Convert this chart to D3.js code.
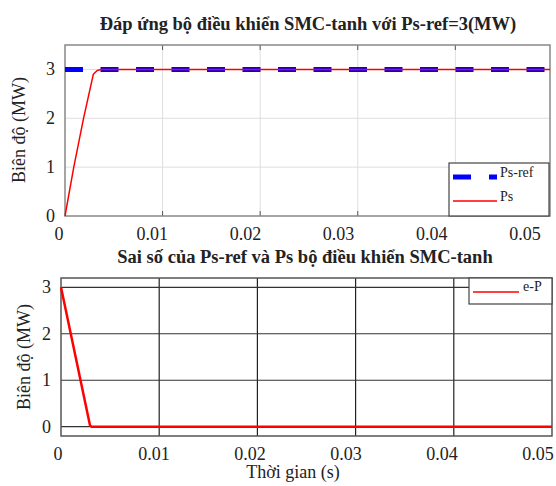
<!DOCTYPE html>
<html>
<head>
  <meta charset="utf-8">
  <script src="https://d3js.org/d3.v7.min.js"></script>
  <style>
    body { margin: 0; background: #fff; }
    text { font-family: "Liberation Serif", "DejaVu Serif", serif; fill: #222; }
  </style>
</head>
<body>
  <script>
    // Data
    const xTicks = [0, 0.01, 0.02, 0.03, 0.04, 0.05];
    const xTickLabels = ["0", "0.01", "0.02", "0.03", "0.04", "0.05"];
    const yTicksTop = [0, 1, 2, 3];
    const yTicksBottom = [0, 1, 2, 3];

    const refTime = [0, 0.05];
    const refValues = [3, 3];
    const psTime = [0, 0.0009, 0.0019, 0.0029, 0.0033, 0.0037, 0.05];
    const psValues = [0, 1, 2, 2.9, 2.98, 3, 3];
    const errTime = [0, 0.00295, 0.0031, 0.05];
    const errValues = [3, 0.03, 0, 0];

    const W = 556, H = 486;
    const svg = d3.select("body").append("svg")
      .attr("width", W).attr("height", H);

    // ---------- top panel ----------
    const pTop = {left: 65, right: 550, top: 45, bottom: 216};
    const xT = d3.scaleLinear().domain([0, 0.0497]).range([pTop.left, pTop.right]);
    const yT = d3.scaleLinear().domain([0, 3.5]).range([pTop.bottom, pTop.top]);
    const xTLab = d3.scaleLinear().domain([0, 0.05]).range([59, 525]);

    const gT = svg.append("g");
    // grid
    gT.selectAll(".vg").data(xTicks.slice(1, 5)).join("line")
      .attr("x1", d => xT(d)).attr("x2", d => xT(d))
      .attr("y1", pTop.top).attr("y2", pTop.bottom)
      .attr("stroke", "#dedede").attr("stroke-width", 1);
    gT.selectAll(".hg").data(yTicksTop.slice(1)).join("line")
      .attr("x1", pTop.left).attr("x2", pTop.right)
      .attr("y1", d => yT(d)).attr("y2", d => yT(d))
      .attr("stroke", "#dedede").attr("stroke-width", 1);
    // tick marks inside (top and bottom edges)
    gT.selectAll(".tb").data(xTicks.slice(1, 5)).join("line")
      .attr("x1", d => xT(d)).attr("x2", d => xT(d))
      .attr("y1", pTop.bottom).attr("y2", pTop.bottom - 5)
      .attr("stroke", "#555");
    gT.selectAll(".tt").data(xTicks.slice(1, 5)).join("line")
      .attr("x1", d => xT(d)).attr("x2", d => xT(d))
      .attr("y1", pTop.top).attr("y2", pTop.top + 5)
      .attr("stroke", "#555");
    // frame
    gT.append("rect")
      .attr("x", pTop.left).attr("y", pTop.top)
      .attr("width", pTop.right - pTop.left).attr("height", pTop.bottom - pTop.top)
      .attr("fill", "none").attr("stroke", "#888").attr("stroke-width", 1.5);

    const lineT = (xs, ys) => d3.line().x((d, i) => xT(xs[i])).y(d => yT(d))(ys);

    gT.append("path")
      .attr("d", lineT(refTime.map(t => Math.min(t, 0.0497)), refValues))
      .attr("fill", "none").attr("stroke", "#0000ff")
      .attr("stroke-width", 5).attr("stroke-dasharray", "18,17.5");
    gT.append("path")
      .attr("d", lineT(psTime.map(t => Math.min(t, 0.0497)), psValues))
      .attr("fill", "none").attr("stroke", "#ff0000")
      .attr("stroke-width", 1.5).attr("stroke-linejoin", "round");

    // tick labels
    gT.selectAll(".xl").data(xTicks).join("text")
      .attr("x", d => xTLab(d)).attr("y", 240)
      .attr("text-anchor", "middle").attr("font-size", 18)
      .text((d, i) => xTickLabels[i]);
    gT.selectAll(".yl").data(yTicksTop).join("text")
      .attr("x", 55).attr("y", d => yT(d) + 6)
      .attr("text-anchor", "end").attr("font-size", 18)
      .text(d => d);

    gT.append("text")
      .attr("transform", "translate(25,130) rotate(-90)")
      .attr("text-anchor", "middle").attr("font-size", 18)
      .text("Biên độ (MW)");
    gT.append("text")
      .attr("x", 308).attr("y", 30)
      .attr("text-anchor", "middle").attr("font-size", 18.5).attr("font-weight", "bold")
      .text("Đáp ứng bộ điều khiển SMC-tanh với Ps-ref=3(MW)");

    // legend top
    const lgT = gT.append("g");
    lgT.append("rect")
      .attr("x", 449).attr("y", 163).attr("width", 100).attr("height", 53)
      .attr("fill", "#fff").attr("stroke", "#444").attr("stroke-width", 1.2);
    lgT.append("line")
      .attr("x1", 453).attr("x2", 497).attr("y1", 177).attr("y2", 177)
      .attr("stroke", "#0000ff").attr("stroke-width", 5).attr("stroke-dasharray", "18,18");
    lgT.append("text").attr("x", 500).attr("y", 177).attr("font-size", 14).text("Ps-ref");
    lgT.append("line")
      .attr("x1", 453).attr("x2", 497).attr("y1", 201).attr("y2", 201)
      .attr("stroke", "#ff0000").attr("stroke-width", 1.5);
    lgT.append("text").attr("x", 500).attr("y", 201).attr("font-size", 14).text("Ps");

    // ---------- bottom panel ----------
    const pBot = {left: 61, right: 552, top: 278, bottom: 436};
    const xB = d3.scaleLinear().domain([0, 0.05]).range([pBot.left, pBot.right]);
    const yB = d3.scaleLinear().domain([-0.2, 3.2]).range([pBot.bottom, pBot.top]);
    const xBLab = d3.scaleLinear().domain([0, 0.05]).range([58, 538]);

    const gB = svg.append("g");
    gB.selectAll(".vg").data(xTicks.slice(1, 5)).join("line")
      .attr("x1", d => xB(d)).attr("x2", d => xB(d))
      .attr("y1", pBot.top).attr("y2", pBot.bottom)
      .attr("stroke", "#222").attr("stroke-width", 1.2);
    gB.selectAll(".hg").data(yTicksBottom).join("line")
      .attr("x1", pBot.left).attr("x2", pBot.right)
      .attr("y1", d => yB(d)).attr("y2", d => yB(d))
      .attr("stroke", "#333").attr("stroke-width", 1.2);
    gB.append("rect")
      .attr("x", pBot.left).attr("y", pBot.top)
      .attr("width", pBot.right - pBot.left).attr("height", pBot.bottom - pBot.top)
      .attr("fill", "none").attr("stroke", "#555").attr("stroke-width", 1.5);

    gB.append("path")
      .attr("d", d3.line().x((d, i) => xB(errTime[i])).y(d => yB(d))(errValues))
      .attr("fill", "none").attr("stroke", "#ff0000")
      .attr("stroke-width", 2.5).attr("stroke-linejoin", "round");

    gB.selectAll(".xl").data(xTicks).join("text")
      .attr("x", d => xBLab(d)).attr("y", 460)
      .attr("text-anchor", "middle").attr("font-size", 18)
      .text((d, i) => xTickLabels[i]);
    gB.selectAll(".yl").data(yTicksBottom).join("text")
      .attr("x", 51).attr("y", d => yB(d) + 6)
      .attr("text-anchor", "end").attr("font-size", 18)
      .text(d => d);

    gB.append("text")
      .attr("transform", "translate(30,357) rotate(-90)")
      .attr("text-anchor", "middle").attr("font-size", 18)
      .text("Biên độ (MW)");
    gB.append("text")
      .attr("x", 293).attr("y", 478)
      .attr("text-anchor", "middle").attr("font-size", 18)
      .text("Thời gian (s)");
    gB.append("text")
      .attr("x", 305).attr("y", 263)
      .attr("text-anchor", "middle").attr("font-size", 18.5).attr("font-weight", "bold")
      .text("Sai số của Ps-ref và Ps bộ điều khiển SMC-tanh");

    // legend bottom
    const lgB = gB.append("g");
    lgB.append("rect")
      .attr("x", 469).attr("y", 278).attr("width", 83).attr("height", 26)
      .attr("fill", "#fff").attr("stroke", "#444").attr("stroke-width", 1.2);
    lgB.append("line")
      .attr("x1", 473).attr("x2", 519).attr("y1", 292).attr("y2", 292)
      .attr("stroke", "#ff0000").attr("stroke-width", 1.5);
    lgB.append("text").attr("x", 523).attr("y", 291).attr("font-size", 14).text("e-P");
  </script>
</body>
</html>
